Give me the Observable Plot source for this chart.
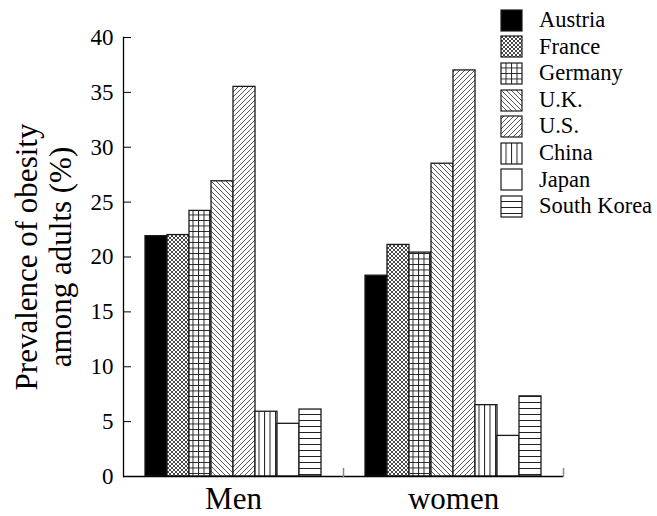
<!DOCTYPE html>
<html><head><meta charset="utf-8">
<script src="https://cdn.jsdelivr.net/npm/d3@7"></script>
<script src="https://cdn.jsdelivr.net/npm/@observablehq/plot@0.6"></script>
<style>
body{margin:0;background:#fff;}
#wrap{position:relative;width:657px;height:516px;font-family:"Liberation Serif","Times New Roman",serif;color:#000;}
#legend{position:absolute;left:500px;top:7px;font-family:"Liberation Serif","Times New Roman",serif;}
.row{display:flex;align-items:center;height:26.6px;font-size:22.5px;line-height:1;font-family:"Liberation Serif","Times New Roman",serif;}
.row span{font-family:"Liberation Serif","Times New Roman",serif;}
.row svg{margin-right:16px;flex:none}
</style></head><body>
<svg width="0" height="0" style="position:absolute">
<defs>
<pattern id="pFr" patternUnits="userSpaceOnUse" width="4" height="4"><rect width="4" height="4" fill="#fff"/><path d="M0,0L4,4M4,0L0,4" stroke="#333" stroke-width="0.9"/></pattern>
<pattern id="pDe" patternUnits="userSpaceOnUse" width="5.5" height="5.5"><rect width="5.5" height="5.5" fill="#fff"/><path d="M0,0.5H5.5M0.5,0V5.5" stroke="#222" stroke-width="1"/></pattern>
<pattern id="pUK" patternUnits="userSpaceOnUse" width="5" height="5"><rect width="5" height="5" fill="#fff"/><path d="M0,0L5,5M-1,4L1,6M4,-1L6,1" stroke="#444" stroke-width="0.9"/></pattern>
<pattern id="pUS" patternUnits="userSpaceOnUse" width="5" height="5"><rect width="5" height="5" fill="#fff"/><path d="M0,5L5,0M-1,1L1,-1M4,6L6,4" stroke="#444" stroke-width="0.9"/></pattern>
<pattern id="pCN" patternUnits="userSpaceOnUse" width="5.5" height="10"><rect width="5.5" height="10" fill="#fff"/><path d="M0.5,0V10" stroke="#222" stroke-width="1"/></pattern>
<pattern id="pKR" patternUnits="userSpaceOnUse" width="10" height="6"><rect width="10" height="6" fill="#fff"/><path d="M0,0.5H10" stroke="#222" stroke-width="1"/></pattern>
</defs></svg>
<div id="wrap"><div id="legend"></div></div>
<script>
const countries = ["Austria", "France", "Germany", "U.K.", "U.S.", "China", "Japan", "South Korea"];
const groups = ["Men", "women"];
const men = [21.9, 22.0, 24.2, 26.9, 35.5, 5.9, 4.8, 6.1];
const women = [18.3, 21.1, 20.4, 28.5, 37.0, 6.5, 3.7, 7.3];
const yTicks = [0, 5, 10, 15, 20, 25, 30, 35, 40];
const yLabel = "Prevalence of obesity\namong adults (%)";
const fills = ["#000", "url(#pFr)", "url(#pDe)", "url(#pUK)", "url(#pUS)", "url(#pCN)", "#fff", "url(#pKR)"];

const data = groups.flatMap((g, gi) => countries.map((c, i) => ({group: g, country: c, value: (gi === 0 ? men : women)[i]})));

const tickUp = {draw(context, l) { context.moveTo(0, 0); context.lineTo(0, -l); }};

const plot = Plot.plot({
  width: 657, height: 516,
  marginLeft: 123, marginRight: 94, marginTop: 37, marginBottom: 40,
  style: {fontFamily: "Liberation Serif, Times New Roman, serif", background: "transparent", color: "#000", overflow: "visible"},
  fx: {domain: groups, padding: 0},
  x: {domain: countries, paddingInner: 0, paddingOuter: 1, axis: null},
  y: {domain: [0, 40]},
  color: {type: "ordinal", domain: countries, range: fills},
  marks: [
    Plot.barY(data, {fx: "group", x: "country", y: "value", fill: "country", stroke: "#1a1a1a", strokeWidth: 1.3}),
    Plot.ruleY([0], {stroke: "#000", strokeWidth: 1.5}),
    Plot.frame({anchor: "left", facet: "super", stroke: "#000", strokeWidth: 1.3}),
    Plot.vector([0], {frameAnchor: "bottom-right", length: 8, rotate: 0, anchor: "start", shape: tickUp, stroke: "#888", strokeWidth: 1.5}),
    Plot.axisY({ticks: yTicks, tickSize: -8, tickPadding: 18, fontSize: 23, label: null, stroke: "#000"}),
    Plot.axisFx({anchor: "bottom", tickSize: 0, tickPadding: 10, fontSize: 31, label: null}),
    Plot.text([yLabel], {text: d => d, frameAnchor: "left", rotate: -90, dx: -80, fontSize: 31, lineAnchor: "middle", textAnchor: "middle", lineHeight: 1.1, facet: "super", fill: "#000"})
  ]
});
const wrap = document.getElementById("wrap");
wrap.insertBefore(plot, wrap.firstChild);

const legend = document.getElementById("legend");
countries.forEach((c, i) => {
  const row = document.createElement("div");
  row.className = "row";
  row.innerHTML = `<svg width="23" height="23"><rect x="1" y="1" width="21" height="21" fill="${fills[i]}" stroke="#1a1a1a" stroke-width="1.2"/></svg><span>${c}</span>`;
  legend.appendChild(row);
});
</script>
</body></html>
